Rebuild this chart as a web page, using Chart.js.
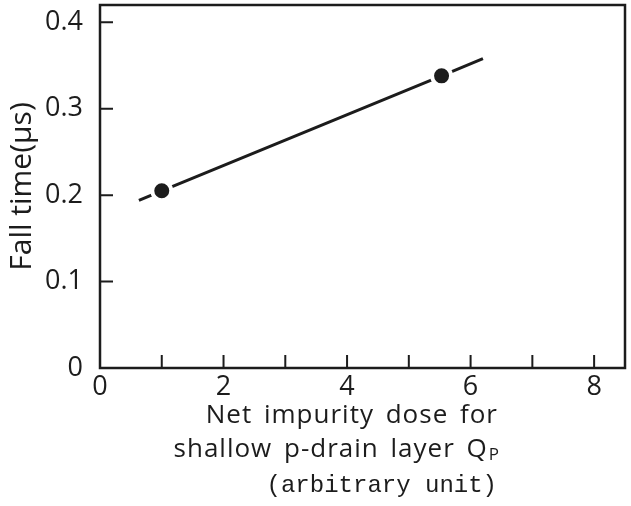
<!DOCTYPE html>
<html>
<head>
<meta charset="utf-8">
<script src="https://cdn.jsdelivr.net/npm/chart.js@4"></script>
<style>
  html, body { margin: 0; padding: 0; background: #fff; }
</style>
</head>
<body>
<canvas id="fallChart" width="631" height="506"></canvas>
<script>
// fitted line ends + the two measured points
const doseValues = [0.63, 1.0, 5.53, 6.2];
const fallTimes = [0.194, 0.205, 0.338, 0.358];
const markerSizes = [0, 9.5, 9.5, 0];

const xTickLabels = ['0', '', '2', '', '4', '', '6', '', '8'];
const yTickLabels = ['0', '0.1', '0.2', '0.3', '0.4'];

const yTitle = 'Fall time(\u03bcs)';
const xTitleLines = ['Net impurity dose for', 'shallow p-drain layer Q', '(arbitrary unit)'];
const xTitleSub = 'P';

const ink = '#1c1c1c';
const sans = "'Open Sans', 'DejaVu Sans', sans-serif";

// box round the plot, inward ticks, and the x axis caption
const framePlugin = {
  id: 'frame',
  afterDraw(chart) {
    const { ctx, chartArea: a, scales } = chart;
    ctx.save();
    ctx.strokeStyle = ink;
    ctx.lineWidth = 2.5;
    ctx.strokeRect(a.left, a.top, a.right - a.left, a.bottom - a.top);

    ctx.lineWidth = 2;
    ctx.beginPath();
    scales.x.ticks.forEach((t) => {
      if (t.value <= 0) return;
      const px = scales.x.getPixelForValue(t.value);
      ctx.moveTo(px, a.bottom);
      ctx.lineTo(px, a.bottom - 13);
    });
    scales.y.ticks.forEach((t) => {
      if (t.value <= 0) return;
      const py = scales.y.getPixelForValue(t.value);
      ctx.moveTo(a.left, py);
      ctx.lineTo(a.left + 13, py);
    });
    ctx.stroke();

    ctx.fillStyle = ink;
    ctx.textAlign = 'right';
    ctx.textBaseline = 'alphabetic';
    ctx.letterSpacing = '1px';
    ctx.wordSpacing = '4px';
    const rightX = 500;
    ctx.font = '26px ' + sans;
    ctx.fillText(xTitleLines[0], rightX - 2, 423);

    ctx.font = '17px ' + sans;
    const subW = ctx.measureText(xTitleSub).width;
    ctx.fillText(xTitleSub, rightX, 460);
    ctx.font = '26px ' + sans;
    ctx.fillText(xTitleLines[1], rightX - subW - 1, 457);

    ctx.letterSpacing = '0px';
    ctx.wordSpacing = '0px';
    ctx.font = "24px 'Liberation Mono', 'DejaVu Sans Mono', monospace";
    ctx.fillText(xTitleLines[2], rightX - 3, 492);
    ctx.restore();
  },
};

const ctx = document.getElementById('fallChart').getContext('2d');
new Chart(ctx, {
  type: 'line',
  data: {
    datasets: [
      {
        data: doseValues.map((x, i) => ({ x: x, y: fallTimes[i] })),
        borderColor: ink,
        borderWidth: 3,
        pointRadius: markerSizes,
        pointBackgroundColor: ink,
        pointBorderColor: '#ffffff',
        pointBorderWidth: 4,
        tension: 0,
        fill: false,
      },
    ],
  },
  options: {
    responsive: false,
    animation: false,
    layout: { padding: { left: 0, top: 5, right: 6, bottom: 0 } },
    plugins: {
      legend: { display: false },
      tooltip: { enabled: false },
    },
    scales: {
      x: {
        type: 'linear',
        min: 0,
        max: 8.5,
        grid: { display: false },
        border: { display: false },
        ticks: {
          stepSize: 1,
          includeBounds: false,
          autoSkip: false,
          maxRotation: 0,
          padding: -5,
          color: ink,
          font: { family: sans, size: 27 },
          callback: (v, i) => xTickLabels[i],
        },
        afterFit: (scale) => {
          scale.height = 138;
          scale.paddingLeft = 0;
          scale.paddingRight = 0;
        },
      },
      y: {
        min: 0,
        max: 0.42,
        grid: { display: false },
        border: { display: false },
        ticks: {
          stepSize: 0.1,
          includeBounds: false,
          padding: 9,
          color: ink,
          font: { family: sans, size: 27 },
          callback: (v, i) => yTickLabels[i],
        },
        title: {
          display: true,
          text: yTitle,
          color: ink,
          font: { family: sans, size: 30 },
          padding: { top: 4, bottom: 0 },
        },
        afterFit: (scale) => {
          scale.width = 100;
          scale.paddingTop = 0;
          scale.paddingBottom = 0;
        },
      },
    },
  },
  plugins: [framePlugin],
});
</script>
</body>
</html>
